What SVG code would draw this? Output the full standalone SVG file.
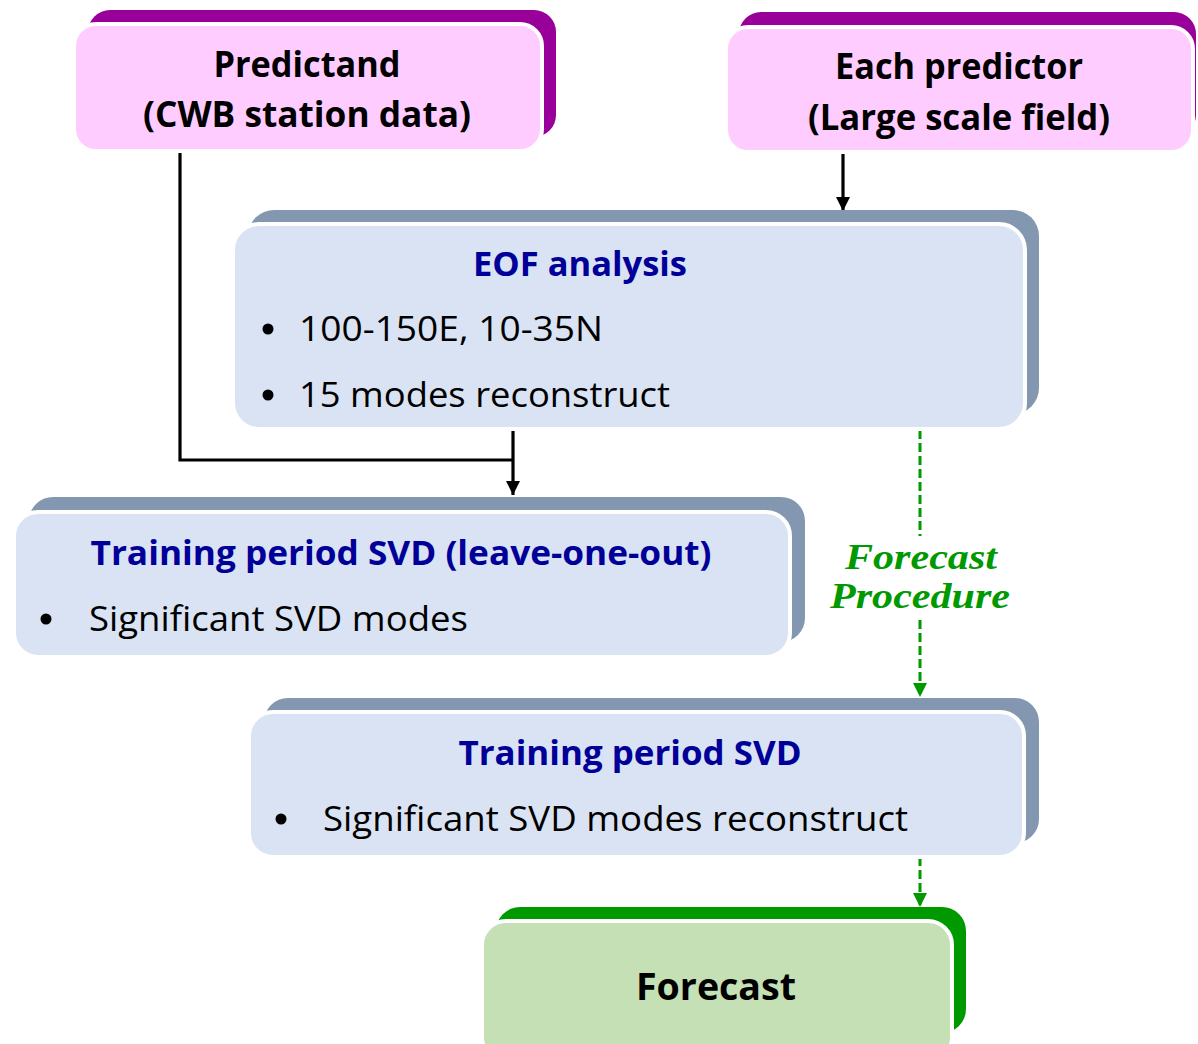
<svg xmlns="http://www.w3.org/2000/svg" width="1198" height="1044" viewBox="0 0 1198 1044">
  <style>
    .front { stroke: #ffffff; stroke-width: 4; }
    .pink { fill: #ffccff; }
    .pinkback { fill: #990099; }
    .blue { fill: #dae3f3; }
    .blueback { fill: #8497b0; }
    .green { fill: #c5e0b4; }
    .greenback { fill: #009900; }
    .head { font-family: "Open Sans", "Liberation Sans", sans-serif; font-weight: bold; text-anchor: middle; }
    .black { fill: #000000; }
    .navy { fill: #000099; }
    .item { font-family: "Open Sans", "Liberation Sans", sans-serif; font-size: 35px; fill: #000000; }
    .proc { font-family: "Liberation Serif", "Times New Roman", serif; font-weight: bold; font-style: italic; font-size: 36px; fill: #009900; text-anchor: middle; }
    .link { fill: none; stroke: #000000; stroke-width: 3.2; }
    .dash { fill: none; stroke: #009900; stroke-width: 3; stroke-dasharray: 9 4; }
  </style>
  <defs>
    <marker id="arrowBlack" viewBox="0 0 10 10" refX="10" refY="5" markerWidth="14" markerHeight="14" markerUnits="userSpaceOnUse" orient="auto">
      <path d="M0,0 L10,5 L0,10 Z" fill="#000000"/>
    </marker>
    <marker id="arrowGreen" viewBox="0 0 10 10" refX="10" refY="5" markerWidth="14" markerHeight="14" markerUnits="userSpaceOnUse" orient="auto">
      <path d="M0,0 L10,5 L0,10 Z" fill="#009900"/>
    </marker>
  </defs>

  <!-- connectors -->
  <g id="connectors">
    <polyline class="link" points="180,151 180,460 513,460"/>
    <line class="link" x1="513" y1="430" x2="513" y2="495" stroke-width="2.6" marker-end="url(#arrowBlack)"/>
    <line class="link" x1="843" y1="153" x2="843" y2="211" stroke-width="2.4" marker-end="url(#arrowBlack)"/>
    <line class="dash" x1="920" y1="430" x2="920" y2="536"/>
    <line class="dash" x1="920" y1="620" x2="920" y2="697" marker-end="url(#arrowGreen)"/>
    <line class="dash" x1="920" y1="857" x2="920" y2="907" marker-end="url(#arrowGreen)"/>
    <text class="proc" x="921" y="569" textLength="152" lengthAdjust="spacingAndGlyphs">Forecast</text>
    <text class="proc" x="920" y="608" textLength="180" lengthAdjust="spacingAndGlyphs">Procedure</text>
  </g>

  <!-- Predictand -->
  <g id="predictand">
    <rect class="pinkback" x="88" y="10" width="468" height="127" rx="22"/>
    <rect class="pink front" x="74" y="24" width="468" height="127" rx="22"/>
    <text class="head black" x="307" y="77" font-size="35" textLength="187" lengthAdjust="spacingAndGlyphs">Predictand</text>
    <text class="head black" x="307" y="127" font-size="35" textLength="328" lengthAdjust="spacingAndGlyphs">(CWB station data)</text>
  </g>

  <!-- Each predictor -->
  <g id="predictor">
    <rect class="pinkback" x="739" y="12" width="457" height="125" rx="22"/>
    <rect class="pink front" x="726" y="27" width="467" height="125" rx="22"/>
    <text class="head black" x="959" y="79" font-size="35" textLength="248" lengthAdjust="spacingAndGlyphs">Each predictor</text>
    <text class="head black" x="959" y="130" font-size="35" textLength="302" lengthAdjust="spacingAndGlyphs">(Large scale field)</text>
  </g>

  <!-- EOF analysis -->
  <g id="eof">
    <rect class="blueback" x="248" y="210" width="791" height="204" rx="26"/>
    <rect class="blue front" x="233" y="224" width="792" height="205" rx="26"/>
    <text class="head navy" x="580" y="276" font-size="34" textLength="214" lengthAdjust="spacingAndGlyphs">EOF analysis</text>
    <circle cx="268" cy="329" r="5.5"/>
    <text class="item" x="299" y="341" textLength="304" lengthAdjust="spacingAndGlyphs">100-150E, 10-35N</text>
    <circle cx="268" cy="395" r="5.5"/>
    <text class="item" x="299" y="407" textLength="371" lengthAdjust="spacingAndGlyphs">15 modes reconstruct</text>
  </g>

  <!-- Training period SVD (leave-one-out) -->
  <g id="svd-loo">
    <rect class="blueback" x="29" y="497" width="776" height="145" rx="24"/>
    <rect class="blue front" x="14" y="512" width="776" height="145" rx="24"/>
    <text class="head navy" x="401" y="565" font-size="34" textLength="621" lengthAdjust="spacingAndGlyphs">Training period SVD (leave-one-out)</text>
    <circle cx="46" cy="619" r="5.5"/>
    <text class="item" x="89" y="631" textLength="379" lengthAdjust="spacingAndGlyphs">Significant SVD modes</text>
  </g>

  <!-- Training period SVD -->
  <g id="svd">
    <rect class="blueback" x="264" y="698" width="775" height="145" rx="24"/>
    <rect class="blue front" x="249" y="712" width="775" height="145" rx="24"/>
    <text class="head navy" x="630" y="765" font-size="34" textLength="343" lengthAdjust="spacingAndGlyphs">Training period SVD</text>
    <circle cx="281" cy="819" r="5.5"/>
    <text class="item" x="323" y="831" textLength="585" lengthAdjust="spacingAndGlyphs">Significant SVD modes reconstruct</text>
  </g>

  <!-- Forecast -->
  <g id="forecast">
    <rect class="greenback" x="496" y="907" width="470" height="126" rx="24"/>
    <rect class="green front" x="482" y="921" width="470" height="140" rx="24"/>
    <text class="head black" x="716" y="1000" font-size="38" textLength="160" lengthAdjust="spacingAndGlyphs">Forecast</text>
  </g>
</svg>
